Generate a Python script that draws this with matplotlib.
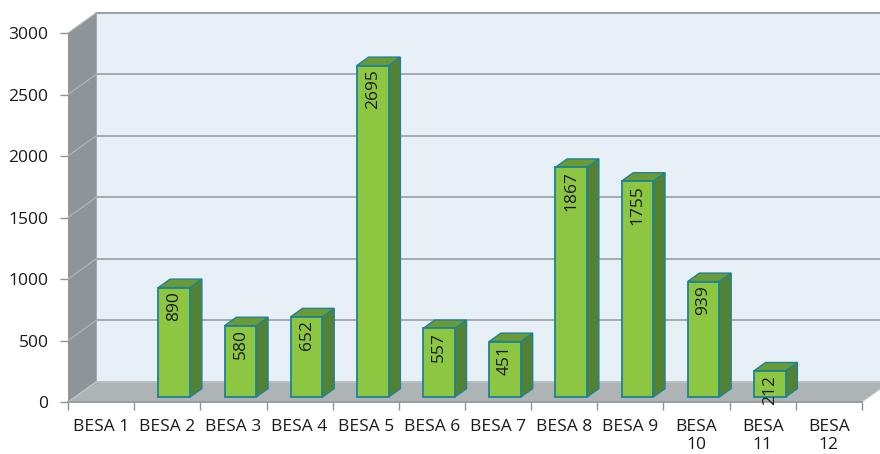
import matplotlib.pyplot as plt
from matplotlib.patches import Polygon
import numpy as np

plt.rcParams['font.family'] = ['Open Sans', 'DejaVu Sans']

categories = ['BESA 1', 'BESA 2', 'BESA 3', 'BESA 4', 'BESA 5', 'BESA 6',
              'BESA 7', 'BESA 8', 'BESA 9', 'BESA\n10', 'BESA\n11', 'BESA\n12']
values = [None, 890, 580, 652, 2695, 557, 451, 1867, 1755, 939, 212, None]
yticks = [0, 500, 1000, 1500, 2000, 2500, 3000]

# fake 3D depth, in data units
DX = 0.423
DY = 163.0
BAR_W = 0.48
BAR_FRONT = 0.25   # fraction of depth where bar front face sits
BAR_DEPTH = 0.42

front_col = '#8DC641'
side_col = '#548235'
top_col = '#6B9B37'
edge_col = '#1E8296'
txt_col = '#1A1A1A'

fig = plt.figure(figsize=(8.8, 4.54), dpi=100)
ax = fig.add_axes([0.0773, 0.1145, 0.9022, 0.8128])
n = len(categories)
ax.set_xlim(0, n)
ax.set_ylim(0, 3000)
for s in ax.spines.values():
    s.set_visible(False)
ax.patch.set_visible(False)

# back wall
ax.add_patch(Polygon([(DX, DY), (n + DX, DY), (n + DX, 3000 + DY), (DX, 3000 + DY)],
                     closed=True, fc='#E8F0F7', ec='#9A9FA2', lw=1.2, clip_on=False, zorder=1))
for v in yticks[1:]:
    ax.plot([DX, n + DX], [v + DY, v + DY], color='#9A9FA2', lw=1.2, clip_on=False, zorder=2)

# left wall
ax.add_patch(Polygon([(0, 0), (DX, DY), (DX, 3000 + DY), (0, 3000)],
                     closed=True, fc='#8E9497', ec='none', clip_on=False, zorder=2))
for v in yticks[1:]:
    ax.plot([0, DX], [v, v + DY], color='#B5B9BB', lw=0.8, clip_on=False, zorder=3)

# floor
ax.add_patch(Polygon([(0, 0), (n, 0), (n + DX, DY), (DX, DY)],
                     closed=True, fc='#AEB3B5', ec='#C6CACC', lw=0.8, clip_on=False, zorder=2))

# bars
for i, v in enumerate(values):
    if v is None:
        continue
    x0 = i + 0.5 - BAR_W / 2 + BAR_FRONT * DX
    x1 = x0 + BAR_W
    y0 = BAR_FRONT * DY
    y1 = y0 + v
    ddx = BAR_DEPTH * DX
    ddy = BAR_DEPTH * DY
    ax.add_patch(Polygon([(x1, y0), (x1 + ddx, y0 + ddy), (x1 + ddx, y1 + ddy), (x1, y1)],
                         closed=True, fc=side_col, ec=edge_col, lw=1.0, zorder=4))
    ax.add_patch(Polygon([(x0, y1), (x1, y1), (x1 + ddx, y1 + ddy), (x0 + ddx, y1 + ddy)],
                         closed=True, fc=top_col, ec=edge_col, lw=1.0, zorder=4))
    ax.bar(x0, v, width=BAR_W, bottom=y0, align='edge', color=front_col,
           edgecolor=edge_col, linewidth=1.3, zorder=5)
    ax.text((x0 + x1) / 2, y1 - 30, str(v), rotation=90, ha='center', va='top',
            fontsize=12.5, color=txt_col, zorder=6)

# axes lines and ticks
ax.plot([0, n], [0, 0], color='#8E9497', lw=1.2, clip_on=False, zorder=3)
ax.set_xticks(np.arange(n + 1))
ax.set_xticklabels([])
ax.set_xticks(np.arange(n) + 0.5, minor=True)
ax.set_xticklabels(categories, minor=True, fontsize=12.5, color=txt_col, linespacing=1.2)
ax.tick_params(axis='x', which='major', length=6, color='#8E9497', width=1)
ax.tick_params(axis='x', which='minor', length=0, pad=12)
ax.set_yticks(yticks)
ax.set_yticklabels([str(t) for t in yticks], fontsize=12.5, color=txt_col)
ax.tick_params(axis='y', length=6, color='#8E9497', width=1, pad=8)

fig.savefig('out.png', dpi=100)
